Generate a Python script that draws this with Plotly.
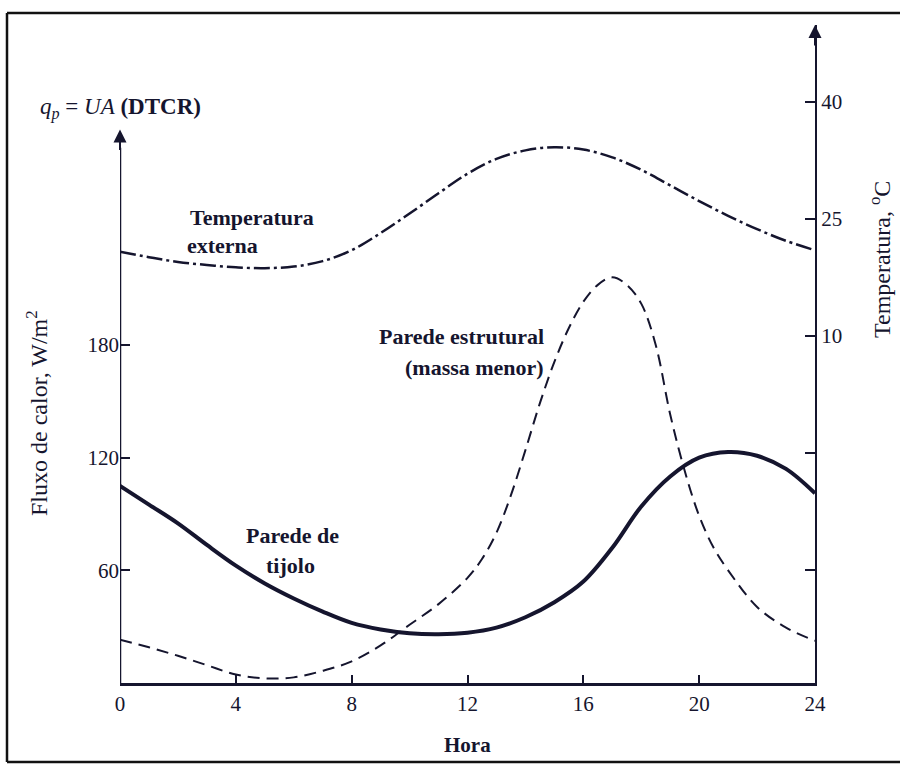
import plotly.graph_objects as go

# ---- data ----
hours = list(range(0, 25))
temp_ext = [20.8, 20.1, 19.5, 19.1, 18.8, 18.7, 18.9, 19.6, 21.0, 23.2, 25.7, 28.3,
            30.8, 32.7, 33.8, 34.2, 33.9, 32.9, 31.3, 29.3, 27.3, 25.4, 23.7, 22.2, 21.0]
brick = [105, 95, 85, 73.5, 62.5, 53, 45, 38, 32, 28.5, 26.5, 26, 26.8, 29.5, 35, 43, 54,
         72, 94, 110, 120, 123, 121, 114, 101]
struct_hours = [0, 1, 2, 3, 4, 5, 6, 7, 8, 9, 10, 11, 12, 12.5, 13, 13.5, 14, 14.5, 15, 15.5,
                16, 16.5, 17, 17.5, 18, 18.5, 19, 19.5, 20, 20.5, 21, 22, 23, 24]
struct = [23, 19, 14.5, 9.5, 4.5, 2.5, 3, 6.5, 11.5, 20, 31, 42, 56, 66, 80, 100, 124, 149,
          171, 189, 203, 212, 216, 212, 202, 180, 143, 113, 89, 72, 60, 40.5, 29.5, 22.5]

x_ticks = [0, 4, 8, 12, 16, 20, 24]
left_ticks = [60, 120, 180]
right_ticks = [40, 25, 10, -5, -20]
right_ticktext = ["40", "25", "10", "", ""]

INK = "#15152e"
SERIF = "Liberation Serif"

fig = go.Figure()
fig.add_trace(go.Scatter(x=hours, y=brick, mode="lines", line=dict(color=INK, width=4, shape="spline"),
                         yaxis="y", showlegend=False))
fig.add_trace(go.Scatter(x=struct_hours, y=struct, mode="lines",
                         line=dict(color=INK, width=2, dash="12px,7px", shape="spline"),
                         yaxis="y", showlegend=False))
fig.add_trace(go.Scatter(x=hours, y=temp_ext, mode="lines",
                         line=dict(color=INK, width=2.5, dash="16px,4px,3px,4px", shape="spline"),
                         yaxis="y2", showlegend=False))

W, H = 900, 765
L, R, T, B = 120, 85, 25, 82
PW, PH = W - L - R, H - T - B


def px(xp):
    return (xp - L) / PW


def py(yp):
    return (H - B - yp) / PH


y_top = PH / 1.878
t_bottom = 40 - (683 - 102) / 7.8
t_top = 40 + (102 - 25) / 7.8

fig.update_layout(
    width=W, height=H, margin=dict(l=L, r=R, t=T, b=B),
    paper_bgcolor="white", plot_bgcolor="white",
    font=dict(family=SERIF, color=INK, size=21),
    xaxis=dict(range=[0, 24], tickvals=x_ticks, ticks="inside", ticklen=8, tickwidth=1.5,
               tickcolor=INK, showline=True, linewidth=2.5, linecolor=INK, showgrid=False,
               zeroline=False, tickfont=dict(size=21, family=SERIF, color=INK)),
    yaxis=dict(range=[0, y_top], tickvals=left_ticks, ticks="inside", ticklen=10, tickwidth=1.5,
               tickcolor=INK, showline=False, showgrid=False, zeroline=False,
               tickfont=dict(size=21, family=SERIF, color=INK)),
    yaxis2=dict(range=[t_bottom, t_top], overlaying="y", side="right", tickvals=right_ticks,
                ticktext=right_ticktext, ticks="inside", ticklen=10, tickwidth=1.5, tickcolor=INK,
                showline=True, linewidth=2, linecolor=INK, showgrid=False, zeroline=False,
                tickfont=dict(size=21, family=SERIF, color=INK)),
)

# left axis line (stops below the title) with arrow
fig.add_shape(type="line", xref="x", yref="y", x0=0, x1=0, y0=0, y1=285,
              line=dict(color=INK, width=2.5))
fig.add_annotation(x=0, y=294.7, xref="x", yref="y", ax=0, ay=22, text="", showarrow=True,
                   arrowhead=2, arrowsize=1.3, arrowwidth=2, arrowcolor=INK)
# right axis arrow
fig.add_annotation(x=24, y=t_top, xref="x", yref="y2", ax=0, ay=22, text="", showarrow=True,
                   arrowhead=2, arrowsize=1.3, arrowwidth=2, arrowcolor=INK)

# border lines (left, top, bottom)
for x0, y0, x1, y1 in [(7, 13, 7, 762), (7, 13, 900, 13), (7, 762, 900, 762)]:
    fig.add_shape(type="line", xref="paper", yref="paper", x0=px(x0), y0=py(y0), x1=px(x1), y1=py(y1),
                  line=dict(color="#111111", width=2.5))


def label(text, x, y, xanchor="left", size=21, bold=False, angle=0):
    fig.add_annotation(text=("<b>%s</b>" % text) if bold else text, x=px(x), y=py(y),
                       xref="paper", yref="paper", xanchor=xanchor, yanchor="middle",
                       showarrow=False, textangle=angle,
                       font=dict(family=SERIF, size=size, color=INK))


label("<i>q</i><sub><i>p</i></sub> = <i>UA</i> <b>(DTCR)</b>", 38, 108, size=23)
label("Fluxo de calor, W/m<sup>2</sup>", 37, 413, xanchor="center", size=24, angle=-90)
label("Temperatura, <sup>o</sup>C", 880, 260, xanchor="center", size=24, angle=-90)
label("Hora", 467, 745, xanchor="center", size=21, bold=True)
label("Temperatura", 188, 217, size=22, bold=True)
label("externa", 185, 245, size=22, bold=True)
label("Parede estrutural", 546, 337, xanchor="right", size=22, bold=True)
label("(massa menor)", 546, 367, xanchor="right", size=22, bold=True)
label("Parede de", 292, 535, xanchor="center", size=22, bold=True)
label("tijolo", 290, 565, xanchor="center", size=22, bold=True)

fig.write_html("out.html")
